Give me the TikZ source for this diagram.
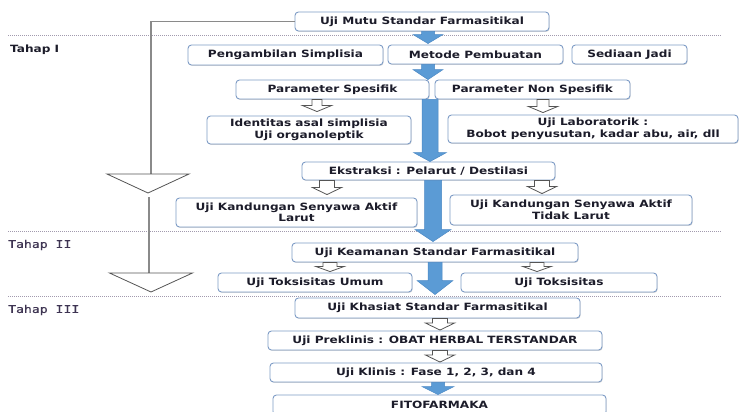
\documentclass[tikz,border=0pt]{standalone}
\usepackage{fontspec}
\usetikzlibrary{calc,shadows}
\newfontfamily\boxfont[FakeStretch=1.21]{DejaVu Sans}
\newfontfamily\stagefont[FakeStretch=1.25,FakeBold=0.4]{DejaVu Sans Mono}
\definecolor{boxline}{HTML}{7E9CC6}
\definecolor{boxtext}{HTML}{1C1C2A}
\definecolor{flowblue}{HTML}{5B9BD5}
\definecolor{flowblueedge}{HTML}{4A88C4}
\definecolor{stagetext}{HTML}{3E3452}
\definecolor{rulegray}{HTML}{A29AAE}
\definecolor{sideline}{HTML}{8A8A8A}
\definecolor{hollowedge}{HTML}{555555}

\tikzset{
  stepbox/.style={draw=boxline, line width=0.9pt, rounded corners=3.5pt, fill=white,
    inner sep=0pt, align=center, text=boxtext,
    font=\boxfont\bfseries\fontsize{10}{11.5}\selectfont,
    drop shadow={shadow xshift=0.7pt, shadow yshift=-0.9pt, opacity=0.3}},
  bluearrow/.style={fill=flowblue, draw=flowblueedge, line width=0.5pt},
  hollowarrow/.style={fill=white, draw=hollowedge, line width=0.8pt},
  stagerule/.style={draw=rulegray, line width=0.8pt, dash pattern=on 1pt off 1pt},
  sidepath/.style={draw=sideline, line width=1.2pt},
  sidetri/.style={draw=hollowedge, line width=0.8pt, fill=white},
  stagelabel/.style={anchor=west, inner sep=0pt, text=stagetext,
    font=\stagefont\fontsize{10.5}{12}\selectfont},
}

% block arrow pointing down: style, start, end, half shaft, half head, head length, gap at tip
\newcommand\fatarrow[7]{%
  \draw[#1] let \p1=(#2), \p2=(#3) in
    (\x1-#4pt,\y1) -- (\x1+#4pt,\y1) -- (\x1+#4pt,\y2+#7pt+#6pt) -- (\x1+#5pt,\y2+#7pt+#6pt)
    -- (\x1,\y2+#7pt) -- (\x1-#5pt,\y2+#7pt+#6pt) -- (\x1-#4pt,\y2+#7pt+#6pt) -- cycle;}

\begin{document}
\begin{tikzpicture}[x=1pt, y=-1pt]
\useasboundingbox (0,0) rectangle (740,412);
\fill[white] (0,0) rectangle (740,412);
\clip (0,0) rectangle (740,412);

% stage separators and labels
\draw[stagerule] (8,35) -- (722,35);
\draw[stagerule] (8,231) -- (722,231);
\draw[stagerule] (8,296) -- (722,296);
\node[anchor=west, inner sep=0pt, text=boxtext, font=\boxfont\bfseries\fontsize{10}{12}\selectfont] (tahap1) at (10,50) {Tahap I};
\node[stagelabel] (tahap2) at (8,245) {Tahap II};
\node[stagelabel] (tahap3) at (8,310) {Tahap III};

% boxes
\node[stepbox, minimum width=254pt, minimum height=19pt] (mutu) at (422,21.5) {Uji Mutu Standar Farmasitikal};
\node[stepbox, minimum width=195pt, minimum height=20pt] (peng) at (285.5,55) {Pengambilan Simplisia};
\node[stepbox, minimum width=175pt, minimum height=19pt] (meto) at (475.5,54.5) {Metode Pembuatan};
\node[stepbox, minimum width=115pt, minimum height=19pt] (sedi) at (629.5,54.5) {Sediaan Jadi};
\node[stepbox, minimum width=193pt, minimum height=19pt] (pspe) at (332.5,89.5) {Parameter Spesifik};
\node[stepbox, minimum width=195pt, minimum height=19pt] (pnon) at (532.5,89.5) {Parameter Non Spesifik};
\node[stepbox, minimum width=204pt, minimum height=28pt] (iden) at (309,130) {Identitas asal simplisia\\Uji organoleptik};
\node[stepbox, minimum width=290pt, minimum height=28pt] (ulab) at (593,129) {Uji Laboratorik :\\Bobot penyusutan, kadar abu, air, dll};
\node[stepbox, minimum width=253pt, minimum height=18pt] (ekst) at (428.5,171) {Ekstraksi : Pelarut / Destilasi};
\node[stepbox, minimum width=241pt, minimum height=29pt] (ularut) at (296.5,212.5) {Uji Kandungan Senyawa Aktif\\Larut};
\node[stepbox, minimum width=242pt, minimum height=30pt] (utidak) at (571,210) {Uji Kandungan Senyawa Aktif\\Tidak Larut};
\node[stepbox, minimum width=286pt, minimum height=19pt] (keam) at (435,252.5) {Uji Keamanan Standar Farmasitikal};
\node[stepbox, minimum width=194pt, minimum height=19pt] (utu) at (315,282.5) {Uji Toksisitas Umum};
\node[stepbox, minimum width=196pt, minimum height=19pt] (utok) at (559,282.5) {Uji Toksisitas};
\node[stepbox, minimum width=285pt, minimum height=20pt] (khas) at (437.5,308) {Uji Khasiat Standar Farmasitikal};
\node[stepbox, minimum width=334pt, minimum height=19pt] (prek) at (435,340.5) {Uji Preklinis : OBAT HERBAL TERSTANDAR};
\node[stepbox, minimum width=332pt, minimum height=19pt] (klin) at (436,372.5) {Uji Klinis : Fase 1, 2, 3, dan 4};
\node[stepbox, minimum width=333pt, minimum height=20pt] (fito) at (439.5,405) {FITOFARMAKA};

% main flow (filled arrows)
\fatarrow{bluearrow}{428,0 |- mutu.south}{428,0 |- meto.north}{6.5}{15}{9}{1}
\fatarrow{bluearrow}{428,0 |- meto.south}{428,0 |- pspe.north}{6.5}{15}{10}{0}
\fatarrow{bluearrow}{430,0 |- pspe.south}{430,0 |- ekst.north}{8}{16.5}{9}{0}
\fatarrow{bluearrow}{433,0 |- ekst.south}{433,0 |- keam.north}{8.5}{18}{12}{1}
\fatarrow{bluearrow}{435,0 |- keam.south}{435,0 |- khas.north}{7}{18}{14}{3}
\fatarrow{bluearrow}{438,0 |- klin.south}{438,0 |- fito.north}{6.5}{16}{8}{0}

% sub-steps (hollow arrows)
\fatarrow{hollowarrow}{317,0 |- pspe.south}{317,0 |- iden.north}{5}{14.5}{6}{4}
\fatarrow{hollowarrow}{543,0 |- pnon.south}{543,0 |- ulab.north}{6}{14.5}{6}{2}
\fatarrow{hollowarrow}{327,0 |- ekst.south}{327,0 |- ularut.north}{7.5}{14.5}{7}{3}
\fatarrow{hollowarrow}{542,0 |- ekst.south}{542,0 |- utidak.north}{7.5}{14.5}{7}{1}
\fatarrow{hollowarrow}{330,0 |- keam.south}{330,0 |- utu.north}{7}{14}{5}{1}
\fatarrow{hollowarrow}{537,0 |- keam.south}{537,0 |- utok.north}{7}{14}{5}{1}
\fatarrow{hollowarrow}{440,0 |- khas.south}{440,0 |- prek.north}{7.5}{14.5}{7}{0.5}
\fatarrow{hollowarrow}{440,0 |- prek.south}{440,0 |- klin.north}{7.5}{14.5}{7}{0.5}

% side line with stage markers
\coordinate (tri1top) at (148,174);
\coordinate (tri1tip) at (148,193);
\coordinate (tri2top) at (151,273);
\coordinate (tri2tip) at (151,292);
\draw[sidepath] (mutu.west) -- (151,0 |- mutu.west) -- (151,0 |- tri1top);
\draw[sidepath] (149,197) -- (149,0 |- tri2top);
\draw[sidetri] ($(tri1top)+(-41,0)$) -- ($(tri1top)+(41,0)$) -- (tri1tip) -- cycle;
\draw[sidetri] ($(tri2top)+(-41.5,0)$) -- ($(tri2top)+(41.5,0)$) -- (tri2tip) -- cycle;
\end{tikzpicture}
\end{document}
